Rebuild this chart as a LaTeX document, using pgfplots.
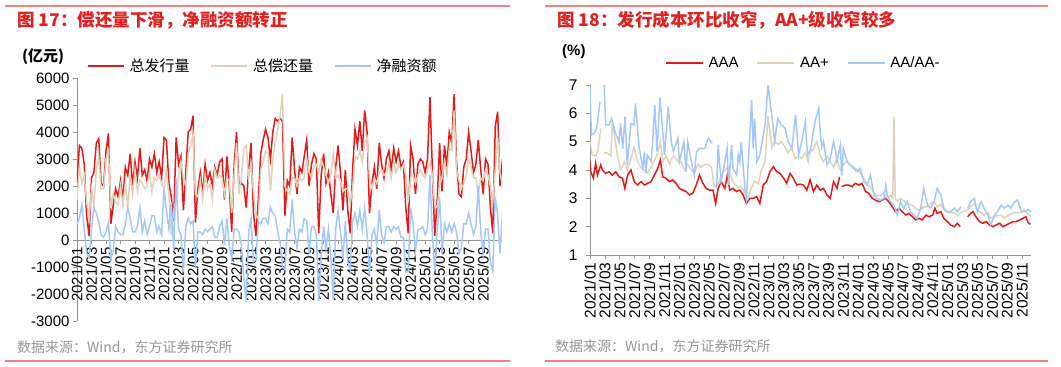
\documentclass[border=0pt]{standalone}
\usepackage{fontspec}
\setmainfont{Liberation Sans}
\newfontfamily\cjk{Noto Sans CJK SC}
\usepackage{pgfplots}
\pgfplotsset{compat=1.18}
\usepackage{pgfplotstable}
\definecolor{sred}{RGB}{230,25,25}
\definecolor{sbeige}{RGB}{222,210,185}
\definecolor{sblue}{RGB}{165,200,250}
\definecolor{ttl}{RGB}{226,32,32}
\definecolor{deco}{RGB}{240,130,130}
\definecolor{axgray}{RGB}{150,150,150}
\definecolor{srcgray}{RGB}{150,150,150}

\pgfplotstableread{
m iss rep net
0.00 2100 1500 600
0.33 3500 2700 800
0.67 3400 2100 1300
1.00 2800 2400 400
1.33 900 1400 -500
1.67 150 800 -650
2.00 2300 1900 400
2.33 2500 1300 1200
2.67 3600 2600 1000
3.00 3750 3100 650
3.33 2100 1900 200
3.67 2000 1900 100
4.00 3300 3000 300
4.33 3950 3300 650
4.67 600 1300 -700
5.00 1300 1700 -400
5.33 1900 1400 500
5.67 1600 1300 300
6.00 2200 2000 200
6.33 1500 1300 200
6.67 2700 2100 600
7.00 2400 1200 1200
7.33 3200 2400 800
7.67 2000 1700 300
8.00 2900 2600 300
8.33 2300 1800 500
8.67 3400 2200 1200
9.00 2400 2100 300
9.33 2600 1900 700
9.67 2200 2000 200
10.00 3000 2500 500
10.33 2700 1800 900
10.67 3200 2300 900
11.00 2500 2200 300
11.33 2900 2400 500
11.67 2300 2100 200
12.00 3800 1900 1900
12.33 3700 2600 1100
12.67 2100 1700 400
13.00 1600 200 1400
13.33 700 1100 -400
13.67 3800 1500 2300
14.00 2800 2400 400
14.33 3100 2900 200
14.67 1100 2300 -1200
15.00 2500 2000 500
15.33 4000 3200 800
15.67 4100 3500 600
16.00 4600 3900 700
16.33 650 1700 -1050
16.67 1900 1600 300
17.00 2500 2200 300
17.33 1700 1500 200
17.67 2800 2400 400
18.00 2200 1900 300
18.33 2500 2100 400
18.67 2000 1500 500
19.00 2700 2600 100
19.33 2400 2300 100
19.67 2900 2400 500
20.00 3000 2300 700
20.33 1500 1700 -200
20.67 3100 2300 800
21.00 2000 2200 -200
21.33 300 1000 -700
21.67 2800 2400 400
22.00 4000 3600 400
22.33 2000 1700 300
22.67 2100 2300 -200
23.00 2000 3400 -1400
23.33 1200 3500 -2300
23.67 2600 2300 300
24.00 3600 2800 800
24.33 1000 1800 -800
24.67 150 900 -750
25.00 1500 800 700
25.33 3200 2600 600
25.67 3700 2900 800
26.00 4100 3300 800
26.33 3800 3200 600
26.67 3000 1800 1200
27.00 4000 3000 1000
27.33 4500 3600 900
27.67 4400 4100 300
28.00 4500 4600 -100
28.33 4400 5400 -1000
28.67 900 2000 -1100
29.00 2200 1800 400
29.33 2000 1700 300
29.67 3800 2300 1500
30.00 2600 2300 300
30.33 1700 2000 -300
30.67 2700 2300 400
31.00 2500 2200 300
31.33 3100 2300 800
31.67 3700 3000 700
32.00 2000 2500 -500
32.33 2800 2300 500
32.67 3200 2700 500
33.00 3000 2800 200
33.33 250 2500 -2250
33.67 2400 3000 -600
34.00 3200 2700 500
34.33 2100 2400 -300
34.67 2500 2100 400
35.00 1700 2400 -700
35.33 1000 3200 -2200
35.67 2700 2300 400
36.00 3500 2400 1100
36.33 2500 2200 300
36.67 1100 1800 -700
37.00 2600 1900 700
37.33 1100 1900 -800
37.67 250 1350 -1100
38.00 2600 1900 700
38.33 4100 3100 1000
38.67 3500 3000 500
39.00 4400 3300 1100
39.33 3300 2900 400
39.67 4800 3600 1200
40.00 4000 3800 200
40.33 1000 2300 -1300
40.67 2100 1900 200
41.00 2700 2300 400
41.33 1900 2100 -200
41.67 3600 2500 1100
42.00 2800 2600 200
42.33 2300 2400 -100
42.67 3000 2500 500
43.00 3300 2800 500
43.33 2600 2300 300
43.67 3400 2900 500
44.00 2900 2500 400
44.33 3300 2800 500
44.67 2700 2600 100
45.00 2900 2800 100
45.33 1200 2400 -1200
45.67 250 1400 -1150
46.00 3500 2300 1200
46.33 3000 2400 600
46.67 1700 2100 -400
47.00 2800 2400 400
47.33 3000 2600 400
47.67 2900 2400 500
48.00 2500 2300 200
48.33 3000 2600 400
48.67 5300 2900 2400
49.00 2600 2400 200
49.33 150 1300 -1150
49.67 1500 1200 300
50.00 3600 2000 1600
50.33 1800 2300 -500
50.67 3500 2900 600
51.00 2700 2400 300
51.33 4000 3400 600
51.67 3600 3300 300
52.00 5400 4800 600
52.33 2900 2600 300
52.67 1700 2200 -500
53.00 1600 1900 -300
53.33 2700 2100 600
53.67 3000 2400 600
54.00 4000 3000 1000
54.33 3300 2700 600
54.67 2500 2300 200
55.00 2800 2300 500
55.33 3700 1700 2000
55.67 2600 2300 300
56.00 1700 2200 -500
56.33 3000 2600 400
56.67 2800 2400 400
57.00 1200 2000 -800
57.33 250 1400 -1150
57.67 4200 2600 1600
58.00 4750 3800 950
58.33 2000 2500 -500
58.67 3000 2000 1000
}\leftdata

\begin{document}
\begin{tikzpicture}
\useasboundingbox (0pt,0pt) rectangle (1061pt,-367pt);
\draw[deco,line width=2pt] (5pt,-5.5pt) -- (510pt,-5.5pt);
\draw[deco,line width=2pt] (5pt,-361pt) -- (510pt,-361pt);
\draw[deco,line width=2pt] (545pt,-5.5pt) -- (1048pt,-5.5pt);
\draw[deco,line width=2pt] (545pt,-361pt) -- (1048pt,-361pt);
\node[anchor=west,inner sep=0pt,text=ttl,font=\cjk\bfseries\fontsize{17.5}{20}\selectfont] at (17pt,-20pt) {图 17：偿还量下滑，净融资额转正};
\node[anchor=west,inner sep=0pt,text=ttl,font=\cjk\bfseries\fontsize{17.5}{20}\selectfont] at (557pt,-20pt) {图 18：发行成本环比收窄，AA+级收窄较多};
\node[anchor=west,inner sep=0pt,font=\cjk\bfseries\fontsize{15}{15}\selectfont] at (22pt,-57pt) {(亿元)};
\node[anchor=west,inner sep=0pt,font=\bfseries\fontsize{15}{15}\selectfont] at (562pt,-52pt) {(\%)};
\node[anchor=west,inner sep=0pt,text=srcgray,font=\cjk\fontsize{14}{14}\selectfont] at (17pt,-347pt) {数据来源：Wind，东方证券研究所};
\node[anchor=west,inner sep=0pt,text=srcgray,font=\cjk\fontsize{14}{14}\selectfont] at (555pt,-346pt) {数据来源：Wind，东方证券研究所};

\begin{axis}[
  at={(77pt,-321pt)}, anchor=south west, scale only axis,
  width=425pt, height=243pt,
  xmin=0, xmax=58.6, ymin=-3000, ymax=6000,
  axis y line=left, axis x line=middle,
  hide obscured x ticks=false, hide obscured y ticks=false,
  axis line style={axgray, line width=0.8pt, -},
  tick align=outside, major tick length=4pt,
  tick style={axgray, line width=0.8pt},
  ytick={-3000,-2000,...,6000},
  xtick={0,2,...,56},
  xticklabels={2021/01,2021/03,2021/05,2021/07,2021/09,2021/11,2022/01,2022/03,2022/05,2022/07,2022/09,2022/11,2023/01,2023/03,2023/05,2023/07,2023/09,2023/11,2024/01,2024/03,2024/05,2024/07,2024/09,2024/11,2025/01,2025/03,2025/05,2025/07,2025/09},
  x tick label style={rotate=90, anchor=east, font=\fontsize{15}{15}\selectfont},
  y tick label style={font=\fontsize{15}{15}\selectfont, /pgf/number format/assume math mode=true, /pgf/number format/1000 sep={}},
  unbounded coords=jump,
  legend columns=3,
  legend image code/.code={\draw[#1] (0pt,0pt) -- (36pt,0pt);},
  legend style={at={(axis description cs:0.0235,1.049)}, anchor=west, draw=none, fill=none, inner sep=0pt,
    font=\cjk\fontsize{15}{15}\selectfont, nodes={inner sep=0pt},
    /tikz/every odd column/.append style={column sep=5pt},
    /tikz/every even column/.append style={column sep=21pt}},
]
\addplot[sred, line width=1.5pt] table[x=m,y=iss]{\leftdata};
\addlegendentry{总发行量}
\addplot[sbeige, line width=1.5pt] table[x=m,y=rep]{\leftdata};
\addlegendentry{总偿还量}
\addplot[sblue, line width=1.5pt] table[x=m,y=net]{\leftdata};
\addlegendentry{净融资额}
\end{axis}

\begin{axis}[
  at={(590pt,-255pt)}, anchor=south west, scale only axis,
  width=441pt, height=170pt,
  xmin=0, xmax=59.2, ymin=1, ymax=7,
  axis lines=left,
  axis line style={axgray, line width=0.8pt, -},
  tick align=outside, major tick length=4pt,
  tick style={axgray, line width=0.8pt},
  ytick={1,2,...,7},
  xtick={0,2,...,58},
  xticklabels={2021/01,2021/03,2021/05,2021/07,2021/09,2021/11,2022/01,2022/03,2022/05,2022/07,2022/09,2022/11,2023/01,2023/03,2023/05,2023/07,2023/09,2023/11,2024/01,2024/03,2024/05,2024/07,2024/09,2024/11,2025/01,2025/03,2025/05,2025/07,2025/09,2025/11},
  x tick label style={rotate=90, anchor=east, font=\fontsize{15.5}{15.5}\selectfont},
  y tick label style={font=\fontsize{15.5}{15.5}\selectfont, xshift=-5pt, /pgf/number format/assume math mode=true},
  unbounded coords=jump,
  legend columns=3,
  legend image code/.code={\draw[#1] (0pt,0pt) -- (37pt,0pt);},
  legend style={at={(axis description cs:0.170,1.129)}, anchor=west, draw=none, fill=none, inner sep=0pt,
    font=\fontsize{15}{15}\selectfont, nodes={inner sep=0pt},
    /tikz/every odd column/.append style={column sep=5pt},
    /tikz/every even column/.append style={column sep=18pt}},
]
\addplot[sred, line width=1.5pt] coordinates {(0,4.29)(0.1,3.94)(0.45,3.71)(0.76,4.24)(1.0,3.82)(1.44,4.18)(1.66,4.0)(2.1,3.88)(2.56,3.94)(3.0,3.82)(3.46,3.94)(3.9,3.76)(4.36,3.71)(4.68,3.35)(5.04,3.82)(5.5,4.0)(5.94,3.59)(6.4,3.47)(6.84,3.59)(7.3,3.47)(7.74,3.53)(8.2,3.59)(8.64,3.82)(9.1,4.06)(9.45,4.35)(9.76,3.76)(10.2,3.71)(10.66,3.59)(11.1,3.65)(11.56,3.53)(12.0,3.35)(12.46,3.29)(12.9,3.24)(13.36,3.12)(13.8,3.18)(14.26,3.47)(14.7,3.82)(15.16,3.53)(15.6,3.35)(16.06,3.29)(16.5,3.29)(16.87,2.82)(17.2,3.35)(17.63,3.59)(18.1,3.35)(18.44,3.82)(18.76,3.29)(19.2,3.35)(19.66,3.24)(20.1,3.29)(20.56,3.12)(21.0,2.82)(21.46,3.0)(21.9,3.0)(22.36,3.06)(22.8,2.82)(23.26,3.47)(23.7,3.59)(24.16,3.94)(24.6,4.12)(25.06,3.94)(25.5,3.88)(26.0,3.71)(26.4,3.53)(26.86,3.88)(27.3,3.71)(27.76,3.47)(28.2,3.5)(28.65,3.47)(29.1,3.29)(29.55,3.65)(30.0,3.24)(30.45,3.47)(30.9,3.29)(31.35,3.35)(31.8,3.12)(32.25,3.0)(32.7,3.59)(33.15,3.35)(33.5,3.76)(33.65,nan)(33.8,3.41)(34.3,3.47)(34.7,3.47)(35.2,3.41)(35.6,3.53)(36.1,3.47)(36.5,3.53)(37.0,3.24)(37.4,3.18)(37.9,3.0)(38.3,2.94)(38.8,2.88)(39.2,2.94)(39.7,3.0)(40.1,2.88)(40.6,2.7)(41.0,2.53)(41.5,2.65)(41.9,2.53)(42.4,2.41)(42.8,2.47)(43.3,2.35)(43.7,2.24)(44.2,2.29)(44.6,2.24)(45.1,2.41)(45.5,2.35)(46.0,2.41)(46.3,2.65)(46.6,2.47)(47.1,2.53)(47.5,2.29)(48.0,2.18)(48.4,2.06)(48.9,2.0)(49.3,2.12)(49.7,2.0)(50.2,nan)(50.7,2.35)(51.1,2.47)(51.4,2.53)(51.8,2.35)(52.3,2.18)(52.7,2.12)(53.2,2.18)(53.6,2.06)(54.1,2.0)(54.5,2.06)(55.0,2.12)(55.4,2.0)(55.9,2.06)(56.3,2.12)(56.8,2.18)(57.2,2.18)(57.7,2.24)(58.1,2.29)(58.5,2.35)(58.8,2.15)(59.1,2.08)};
\addlegendentry{AAA}
\addplot[sbeige, line width=1.5pt] coordinates {(0,5.0)(0.3,4.53)(0.76,4.5)(1.08,4.7)(1.44,5.47)(1.6,nan)(1.9,4.61)(2.3,4.6)(2.8,4.5)(3.0,5.7)(3.5,4.85)(3.7,4.5)(4.1,4.0)(4.6,4.3)(5.0,4.0)(5.5,4.4)(5.9,4.8)(6.4,4.3)(6.8,4.1)(7.3,4.0)(7.7,3.9)(8.2,4.1)(8.6,4.3)(9.1,4.6)(9.45,5.0)(9.8,4.3)(10.2,4.5)(10.7,4.2)(10.9,4.4)(11.3,4.5)(11.8,4.3)(12.2,4.3)(12.7,4.0)(13.1,4.2)(13.6,4.0)(14.0,3.9)(14.5,4.2)(14.9,4.1)(15.4,4.2)(15.8,4.2)(16.3,4.1)(16.7,3.4)(17.2,3.5)(17.6,3.8)(18.1,4.0)(18.5,4.1)(19.0,3.7)(19.4,3.5)(19.9,3.4)(20.3,3.4)(20.8,3.2)(21.2,3.0)(21.7,3.4)(22.1,3.6)(22.6,3.5)(23.0,4.0)(23.5,4.3)(23.9,5.9)(24.4,4.8)(24.8,5.0)(25.3,4.9)(25.7,5.0)(26.2,4.8)(26.6,4.6)(27.1,4.8)(27.5,4.4)(28.0,4.5)(28.4,4.4)(28.9,4.6)(29.3,4.3)(29.55,4.65)(30.0,4.75)(30.45,5.0)(30.9,4.5)(31.35,4.3)(31.8,4.5)(32.25,4.3)(32.7,4.1)(33.15,4.4)(33.6,4.0)(34.0,4.2)(34.5,4.3)(34.9,4.2)(35.4,4.1)(35.85,4.0)(36.3,3.9)(36.75,3.7)(37.2,3.5)(37.65,3.4)(38.1,3.2)(38.5,3.1)(39.0,3.1)(39.45,3.2)(39.9,3.0)(40.35,3.1)(40.65,3.0)(40.8,5.88)(40.98,3.0)(41.25,2.9)(41.7,3.0)(42.1,2.9)(42.6,2.8)(43.0,2.8)(43.5,2.7)(43.9,2.6)(44.4,2.6)(44.8,2.7)(45.3,2.7)(45.7,2.8)(46.2,2.9)(46.6,2.7)(47.1,2.8)(47.5,2.6)(48.0,2.5)(48.4,2.5)(48.9,2.5)(49.3,2.4)(49.8,2.5)(50.7,2.6)(51.1,2.7)(51.6,2.8)(52.0,2.6)(52.5,2.5)(52.9,2.4)(53.4,2.5)(53.8,2.3)(54.3,2.35)(54.7,2.4)(55.2,2.4)(55.6,2.3)(56.1,2.4)(56.5,2.45)(57.0,2.5)(57.4,2.5)(57.9,2.5)(58.3,2.6)(58.8,2.45)(59.2,2.35)};
\addlegendentry{AA+}
\addplot[sblue, line width=1.5pt] coordinates {(0,6.94)(0.18,5.24)(0.54,5.29)(0.9,5.47)(1.35,6.41)(1.6,nan)(1.9,7.0)(2.1,5.59)(2.56,5.59)(2.9,5.82)(3.5,5.24)(3.9,5.0)(4.1,5.65)(4.4,4.76)(4.7,5.88)(5.0,4.18)(5.5,5.65)(5.9,5.59)(6.1,6.35)(6.6,4.76)(7.1,4.06)(7.3,4.65)(7.5,3.88)(7.7,4.53)(8.2,4.29)(8.4,5.0)(8.7,6.29)(9.0,4.65)(9.4,6.55)(9.8,5.24)(10.0,4.53)(10.5,6.24)(10.9,5.0)(11.2,4.65)(11.8,5.12)(12.0,4.29)(12.6,5.0)(12.9,3.94)(13.1,5.0)(13.6,4.29)(14.0,3.82)(14.3,4.65)(14.7,4.76)(15.4,4.76)(15.9,5.12)(16.4,4.94)(16.7,nan)(17.0,3.35)(17.2,4.88)(17.6,3.59)(18.1,4.29)(18.4,4.76)(18.6,3.47)(19.0,4.88)(19.2,4.06)(19.7,3.82)(19.9,4.53)(20.1,4.29)(20.3,5.0)(20.8,3.35)(21.0,3.0)(21.3,4.53)(21.7,6.47)(21.9,4.76)(22.1,5.82)(22.4,4.29)(22.8,4.53)(23.5,5.59)(23.9,7.0)(24.4,5.94)(24.8,5.0)(25.2,5.82)(25.7,5.59)(26.2,5.47)(26.6,5.0)(27.1,4.76)(27.6,5.94)(28.0,4.53)(28.4,5.0)(28.9,5.7)(29.2,4.53)(29.6,4.71)(30.2,5.7)(30.7,6.18)(30.9,5.35)(31.1,4.8)(31.35,5.0)(31.8,4.18)(32.25,4.4)(32.7,5.0)(32.9,4.77)(33.15,4.3)(33.6,4.88)(33.8,3.8)(34.0,4.77)(34.5,4.3)(34.9,4.18)(35.4,4.06)(35.85,3.94)(36.3,4.06)(36.75,3.59)(37.2,3.47)(37.65,3.82)(38.1,3.12)(38.5,3.0)(39.0,2.94)(39.45,3.0)(39.7,3.47)(39.9,3.12)(40.35,2.88)(40.8,2.76)(41.25,2.41)(41.7,2.88)(42.1,2.65)(42.6,2.88)(43.0,2.53)(43.5,2.41)(43.9,2.29)(44.4,2.65)(44.8,3.35)(45.3,2.76)(45.7,2.65)(46.2,2.88)(46.6,3.35)(47.1,3.12)(47.5,2.65)(48.0,2.53)(48.4,2.53)(48.9,2.65)(49.3,2.53)(49.8,2.7)(50.2,nan)(50.7,2.65)(51.1,2.88)(51.6,3.0)(52.0,2.53)(52.5,2.88)(52.9,2.65)(53.4,2.41)(53.8,2.06)(54.3,2.41)(54.7,2.53)(55.2,2.76)(55.6,2.65)(56.1,2.76)(56.5,2.65)(57.0,2.88)(57.4,2.94)(57.9,2.53)(58.3,2.53)(58.8,2.6)(59.2,2.53)};
\addlegendentry{AA/AA-}
\end{axis}
\end{tikzpicture}
\end{document}
